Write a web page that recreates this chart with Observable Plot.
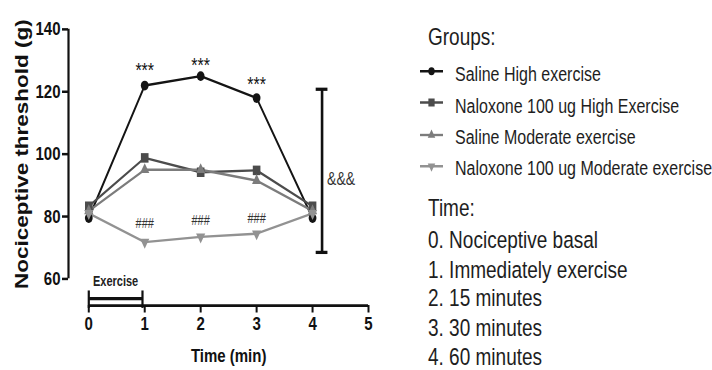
<!DOCTYPE html>
<html><head><meta charset="utf-8">
<script src="https://cdn.jsdelivr.net/npm/d3@7"></script>
<script src="https://cdn.jsdelivr.net/npm/@observablehq/plot@0.6"></script>
<style>
html,body{margin:0;padding:0;background:#fff;}
#outer{position:relative;width:712px;height:370px;overflow:hidden;}
#wrap{position:absolute;left:0;top:0;width:712px;height:296px;transform:scaleY(1.25);transform-origin:0 0;font-family:"Liberation Sans",Arial,sans-serif;}
#chart{position:absolute;left:0;top:0;}
#legend{position:absolute;left:0;top:0;width:712px;height:296px;}
.lg{position:absolute;white-space:nowrap;color:#1e1e1e;line-height:1;}
.lg svg{position:absolute;}
</style></head><body>
<div id="outer"><div id="wrap"><div id="chart"></div><div id="legend"></div></div></div>
<script>
// ---- data ----
const times = [0, 1, 2, 3, 4];
const groups = ["Saline High exercise", "Naloxone 100 ug High Exercise", "Saline Moderate exercise", "Naloxone 100 ug Moderate exercise"];
const salineHigh = [79.5, 122, 125, 118, 79.5];
const naloxoneHigh = [83.3, 98.8, 94.2, 94.8, 83.3];
const salineModerate = [81.8, 95, 95, 91.5, 81.8];
const naloxoneModerate = [81, 71.8, 73.5, 74.5, 81];
const xTicks = [0, 1, 2, 3, 4, 5];
const yTicks = [60, 80, 100, 120, 140];
const starTimes = [1, 2, 3];
const starLevels = [126.8, 128.4, 122.2];
const hashTimes = [1, 2, 3];
const hashLevels = [77.8, 78.7, 79.2];
const compareTime = 4.17, compareLow = 68.5, compareHigh = 120.8;
const compareLabelTime = 4.51, compareLabelLevel = 92;
const exerciseStart = 0, exerciseEnd = 0.96, exerciseLevel = 53.7, exerciseLabelLevel = 59.1;
const timeLabels = ["0. Nociceptive basal", "1. Immediately exercise", "2. 15 minutes", "3. 30 minutes", "4. 60 minutes"];

// ---- styles ----
const seriesValues = [salineHigh, naloxoneHigh, salineModerate, naloxoneModerate];
const groupColors = ["#141414", "#4c4c4c", "#7c7c7c", "#929292"];
const triangleDown = {
  draw(context, size) {
    const y = -Math.sqrt(size / (Math.sqrt(3) * 3));
    context.moveTo(0, -y * 2);
    context.lineTo(-Math.sqrt(3) * y, y);
    context.lineTo(Math.sqrt(3) * y, y);
    context.closePath();
  }
};
const groupSymbols = [d3.symbolCircle, d3.symbolSquare, d3.symbolTriangle, triangleDown];
const groupRadii = [3.9, 4.3, 3.4, 3.4];
const xDomain = [-0.3625, 5];
const yDomain = [51.44, 140];

const rows = groups.flatMap((g, i) => times.map((t, j) => ({group: g, time: t, value: seriesValues[i][j]})));

const marks = [
  Plot.ruleX([xDomain[0]], {y1: yTicks[0], y2: yTicks[yTicks.length - 1], stroke: "#111", strokeWidth: 2.2}),
  Plot.ruleY([yDomain[0]], {x1: xTicks[0], x2: xTicks[xTicks.length - 1], stroke: "#111", strokeWidth: 2.2}),
  Plot.axisY({ticks: yTicks, tickFormat: d3.format("d"), tickSize: 6, tickPadding: 2, fontSize: 15, fontWeight: "bold", label: null, strokeWidth: 2, stroke: "#111", fill: "#111"}),
  Plot.axisX({ticks: xTicks, tickFormat: d3.format("d"), tickSize: 6, tickPadding: 3, fontSize: 15, fontWeight: "bold", label: null, strokeWidth: 2, stroke: "#111", fill: "#111"}),
  Plot.text(["Nociceptive threshold (g)"], {y: 100, frameAnchor: "left", textAnchor: "middle", lineAnchor: "middle", rotate: -90, dx: -46, fontSize: 18, fontWeight: "bold", fill: "#111"}),
  Plot.text(["Time (min)"], {x: 2.5, frameAnchor: "bottom", lineAnchor: "middle", dy: 40, fontSize: 15, fontWeight: "bold", fill: "#111"}),
  // exercise bracket
  Plot.ruleY([exerciseLevel], {x1: exerciseStart, x2: exerciseEnd, stroke: "#111", strokeWidth: 2.6}),
  Plot.ruleX([exerciseStart, exerciseEnd], {y1: exerciseLevel - 3.2, y2: exerciseLevel + 2.4, stroke: "#111", strokeWidth: 2.2}),
  Plot.text(["Exercise"], {x: (exerciseStart + exerciseEnd) / 2, y: exerciseLabelLevel, fontSize: 11, fontWeight: "bold", fill: "#222"}),
  // comparison bar
  Plot.ruleX([compareTime], {y1: compareLow, y2: compareHigh, stroke: "#111", strokeWidth: 2.6}),
  Plot.ruleY([compareLow, compareHigh], {x1: compareTime - 0.105, x2: compareTime + 0.105, stroke: "#111", strokeWidth: 2.6}),
  Plot.text(["&&&"], {x: compareLabelTime, y: compareLabelLevel, fontSize: 14, fill: "#333"}),
  // series
  ...groups.map((g, i) => Plot.line(rows.filter(r => r.group === g), {x: "time", y: "value", stroke: groupColors[i], strokeWidth: 1.9})),
  ...groups.map((g, i) => Plot.dot(rows.filter(r => r.group === g), {x: "time", y: "value", symbol: groupSymbols[i], r: groupRadii[i], fill: groupColors[i], stroke: "none"})),
  Plot.text(starTimes, {x: d => d, y: (d, i) => starLevels[i], text: () => "***", fontSize: 16, fill: "#111"}),
  Plot.text(hashTimes, {x: d => d, y: (d, i) => hashLevels[i], text: () => "###", fontSize: 11, fill: "#333"})
];

const chart = Plot.plot({
  width: 712, height: 296,
  marginLeft: 68, marginRight: 344, marginTop: 23, marginBottom: 52,
  x: {domain: xDomain},
  y: {domain: yDomain},
  style: {fontFamily: "'Liberation Sans', Arial, sans-serif", background: "transparent", color: "#111", overflow: "visible"},
  marks
});
document.getElementById("chart").append(chart);

// ---- legend (HTML) ----
const legend = document.getElementById("legend");
function addText(txt, left, baseline, size) {
  const d = document.createElement("div");
  d.className = "lg";
  d.textContent = txt;
  d.style.fontSize = size + "px";
  d.style.left = left + "px";
  d.style.top = (baseline - size * 0.85) + "px";
  legend.append(d);
  return d;
}
addText("Groups:", 428, 36, 19);
const groupBaselines = [65.3, 90.4, 115.5, 140.5];
groups.forEach((g, i) => {
  addText(g, 455, groupBaselines[i], 16);
  const cy = groupBaselines[i] - 8;
  const svg = d3.create("svg").attr("width", 30).attr("height", 16)
    .style("position", "absolute").style("left", "417px").style("top", (cy - 8) + "px");
  svg.append("line").attr("x1", 3).attr("x2", 26).attr("y1", 8).attr("y2", 8)
    .attr("stroke", groupColors[i]).attr("stroke-width", 1.9);
  svg.append("path").attr("transform", "translate(14.5,8)")
    .attr("d", d3.symbol(groupSymbols[i], Math.PI * (groupRadii[i] * 0.82) ** 2)())
    .attr("fill", groupColors[i]);
  legend.append(svg.node());
});
addText("Time:", 428, 173.4, 19);
const timeBaselines = [198.3, 222, 245.6, 269.2, 292];
timeLabels.forEach((t, i) => addText(t, 428, timeBaselines[i], 19));
</script>
</body></html>
